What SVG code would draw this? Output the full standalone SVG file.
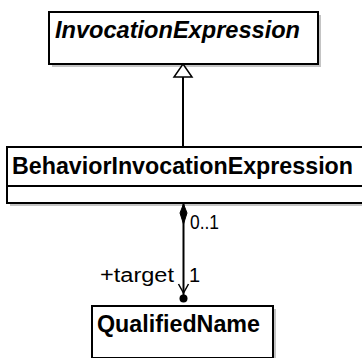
<svg xmlns="http://www.w3.org/2000/svg" width="362" height="358" viewBox="0 0 362 358">
<style>
.box{fill:#fff;stroke:#000;stroke-width:2}
.shadow{fill:#c4c4c4}
.title{font-family:"Liberation Sans",Arial,sans-serif;font-weight:bold;font-size:23px;fill:#000}
.lbl{font-family:"Liberation Sans",Arial,sans-serif;font-size:20px;fill:#000}
.edge{stroke:#000;stroke-width:2;fill:none}
</style>
<rect x="0" y="0" width="362" height="358" fill="#fff"/>
<g id="InvocationExpression">
<rect class="shadow" x="52" y="15" width="269" height="52"/>
<rect class="box" x="49" y="12" width="269" height="52"/>
<text class="title" x="55" y="38" font-style="italic" textLength="245" lengthAdjust="spacingAndGlyphs">InvocationExpression</text>
</g>
<g id="BehaviorInvocationExpression">
<rect class="shadow" x="10" y="150" width="360" height="56"/>
<rect class="box" x="7" y="147" width="360" height="56"/>
<line class="edge" x1="7" y1="186" x2="367" y2="186"/>
<text class="title" x="12" y="174" textLength="341" lengthAdjust="spacingAndGlyphs">BehaviorInvocationExpression</text>
</g>
<g id="QualifiedName">
<rect class="shadow" x="95" y="309" width="181" height="52"/>
<rect class="box" x="92" y="306" width="181" height="52"/>
<text class="title" x="97" y="332" textLength="163" lengthAdjust="spacingAndGlyphs">QualifiedName</text>
</g>
<g id="connectors">
<line class="edge" x1="183" y1="77" x2="183" y2="147"/>
<polygon points="183,64 192,77 174,77" fill="#fff" stroke="#000" stroke-width="1.5"/>
<line class="edge" x1="183.5" y1="203" x2="183.5" y2="298"/>
<polygon points="183.5,204 187,213 183.5,224 180,213" fill="#000" stroke="#000" stroke-width="1"/>
<polyline points="178.5,284 183.5,293 188.5,284" fill="none" stroke="#000" stroke-width="1.5"/>
<circle cx="183.5" cy="298.5" r="4" fill="#000"/>
<text class="lbl" x="190" y="229" textLength="29" lengthAdjust="spacingAndGlyphs">0..1</text>
<text class="lbl" x="100" y="282" textLength="74" lengthAdjust="spacingAndGlyphs">+target</text>
<text class="lbl" x="189" y="282">1</text>
</g>
</svg>
